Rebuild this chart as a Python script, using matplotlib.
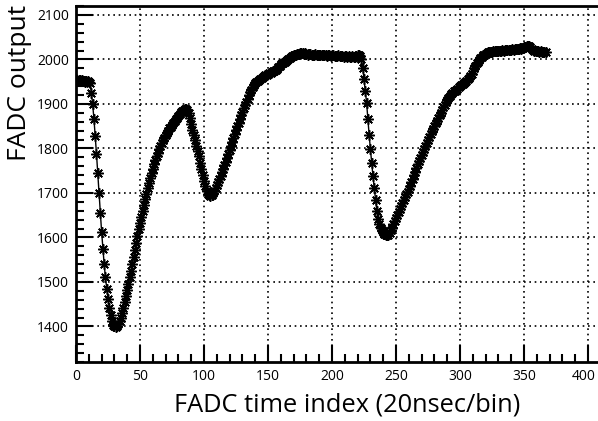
import numpy as np
import matplotlib.pyplot as plt
from matplotlib.ticker import MultipleLocator
from matplotlib.transforms import ScaledTranslation

plt.rcParams['font.family'] = ['Open Sans', 'DejaVu Sans']

# FADC samples, one per 20 ns bin
adc = [
    1955, 1953, 1952, 1954, 1951, 1953, 1952, 1950, 1952, 1951, 1950, 1948,
    1925, 1899, 1867, 1828, 1788, 1745, 1700, 1655, 1613, 1575, 1540, 1510, 1485,
    1462, 1442, 1425, 1412, 1404, 1400, 1398, 1401,
    1405, 1412, 1420, 1430, 1442, 1455, 1468, 1482, 1496, 1510, 1524, 1540, 1556,
    1572, 1588, 1603, 1618, 1632, 1646, 1660, 1673, 1686, 1698, 1710, 1722, 1733,
    1744, 1754, 1764, 1773, 1782, 1790, 1798, 1805, 1812, 1818, 1824, 1830, 1835,
    1840, 1845, 1849, 1853, 1857, 1861, 1865, 1869, 1873, 1877, 1881, 1884, 1887, 1888,
    1889, 1887, 1880, 1868, 1855, 1842, 1830, 1818, 1806, 1794, 1782, 1768, 1754,
    1740, 1727, 1715, 1705, 1698, 1695, 1694, 1696,
    1700, 1705, 1711, 1717, 1724, 1731, 1738, 1746, 1754, 1762, 1770, 1778, 1787,
    1796, 1805, 1814, 1823, 1832, 1841, 1850, 1858, 1866, 1874, 1882, 1890, 1898,
    1905, 1912, 1919, 1926, 1932, 1938, 1943, 1947, 1950,
    1952, 1954, 1956, 1958, 1960, 1962, 1964, 1965, 1967, 1969, 1970, 1972, 1973,
    1974, 1976, 1978, 1982, 1986, 1989, 1991, 1993, 1995, 1997, 1999, 2001, 2003,
    2005, 2007, 2009, 2010, 2011,
    2012, 2013, 2014, 2015, 2014, 2013, 2014, 2012, 2011, 2012, 2013, 2011, 2010,
    2011, 2012, 2010, 2009, 2011, 2010, 2009, 2010, 2011, 2009, 2008, 2010, 2009,
    2008, 2009, 2010, 2008, 2007, 2008, 2009, 2007, 2008, 2007, 2006, 2008, 2007,
    2006, 2007, 2006, 2005, 2007, 2006, 2005, 2007, 2009, 2010, 2008, 2000,
    1981, 1955, 1929, 1903, 1866, 1831, 1798, 1768, 1738, 1712, 1685, 1659, 1642,
    1630, 1622, 1616, 1612, 1608, 1606, 1605, 1606,
    1610, 1616, 1622, 1629, 1636, 1643, 1650, 1657, 1664, 1671, 1678, 1685, 1691,
    1697, 1703, 1709, 1716, 1724, 1732, 1740, 1748, 1756, 1764, 1771, 1778, 1785,
    1792, 1799, 1806, 1813, 1820, 1826, 1832, 1838, 1844, 1850, 1856, 1862, 1868,
    1874, 1880, 1886, 1892, 1898, 1904, 1909, 1914, 1918, 1922, 1925, 1928, 1930,
    1932, 1934, 1937, 1940, 1942, 1945, 1947, 1950, 1952, 1955, 1958, 1962, 1968,
    1974, 1980, 1986, 1991, 1995, 1999, 2003, 2006, 2009, 2011, 2013, 2015,
    2016, 2016, 2017, 2017, 2018, 2018, 2019, 2019, 2020, 2019, 2020, 2021, 2020,
    2021, 2022, 2021, 2022, 2021, 2022, 2023, 2022, 2023, 2024, 2023, 2024, 2025,
    2024, 2026, 2027, 2028, 2029, 2030, 2029, 2027, 2024, 2021, 2019, 2020, 2018,
    2019, 2017, 2018, 2016, 2017, 2016, 2017,
]
tbin = np.arange(len(adc))
xticks = [0, 50, 100, 150, 200, 250, 300, 350, 400]

fig = plt.figure(figsize=(5.98, 4.21), dpi=100)
ax = fig.add_axes([76/598, 59/421, 522/598, 356/421])

ax.plot(tbin, adc, color='black', lw=1.0, marker=(8, 2, 0), ms=7.5, mew=1.1,
        zorder=3)

ax.set_xlim(0, 407.8)
ax.set_ylim(1320, 2120)
ax.set_xticks(xticks)
ax.set_xticklabels([str(t) for t in xticks])
ax.xaxis.set_minor_locator(MultipleLocator(10))
ax.yaxis.set_major_locator(MultipleLocator(100))
ax.yaxis.set_minor_locator(MultipleLocator(20))

ax.grid(True, which='major', color='black', ls=(0, (1, 2.2)), lw=1.2)
ax.tick_params(which='both', direction='in', labelsize=10, width=1.5,
               colors='black', top=False, right=False)
ax.tick_params(which='major', length=12, pad=5)
ax.tick_params(which='minor', length=6)

# last label sits against the right edge, nudge it in a bit
lab = ax.get_xticklabels()[-1]
lab.set_transform(lab.get_transform() + ScaledTranslation(-3/72, 0, fig.dpi_scale_trans))

for s in ['left', 'bottom', 'top']:
    ax.spines[s].set_linewidth(2)
ax.spines['right'].set_visible(False)

fig.text(347/598, 1 - 405/421, 'FADC time index (20nsec/bin)', fontsize=18.3,
         ha='center', va='center')
fig.text(20/598, 1 - 83/421, 'FADC output', fontsize=19, rotation=90,
         ha='center', va='center')

fig.savefig('out.png', dpi=100)
